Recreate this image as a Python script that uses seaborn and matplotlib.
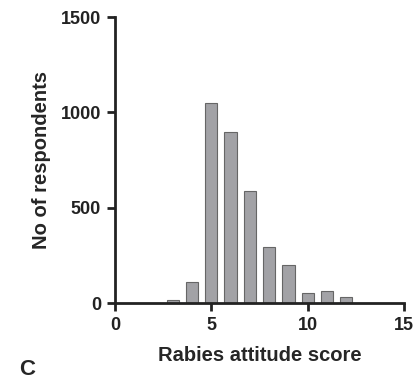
import pandas as pd
import matplotlib
matplotlib.use("Agg")
import matplotlib.pyplot as plt
import seaborn as sns

scores = [3, 4, 5, 6, 7, 8, 9, 10, 11, 12]
respondents = [14, 110, 1050, 897, 589, 293, 197, 54, 61, 31]

df = pd.DataFrame({'Score': scores, 'Respondents': respondents})

sns.set_style("ticks")
plt.rcParams['font.family'] = ['Liberation Sans', 'DejaVu Sans']

fig = plt.figure(figsize=(4.2, 3.8), dpi=100)
ax = fig.add_axes([115/420, 1-303/380, 289/420, 286/380])

sns.barplot(
    x='Score',
    y='Respondents',
    data=df,
    native_scale=True,
    width=0.64,
    color='#a2a2a6',
    edgecolor='#666666',
    linewidth=0.8,
    saturation=1,
    ax=ax
)

ax.set_xlim(0, 15)
ax.set_ylim(0, 1500)
ax.set_xticks([0, 5, 10, 15])
ax.set_yticks([0, 500, 1000, 1500])

for s in ['top', 'right']:
    ax.spines[s].set_visible(False)
for s in ['left', 'bottom']:
    ax.spines[s].set_linewidth(2)
    ax.spines[s].set_color('#222222')

ax.tick_params(direction='out', length=6, width=2, colors='#222222',
               labelsize=13, pad=4)
for lab in ax.get_xticklabels() + ax.get_yticklabels():
    lab.set_fontweight('bold')

ax.set_xlabel("Rabies attitude score", fontsize=14.5, fontweight='bold', labelpad=9)
ax.set_ylabel("No of respondents", fontsize=14.5, fontweight='bold', labelpad=7)

fig.text(0.045, 0.0, "C", fontsize=16, fontweight='bold', va='bottom')

fig.savefig("out.png", dpi=100)
